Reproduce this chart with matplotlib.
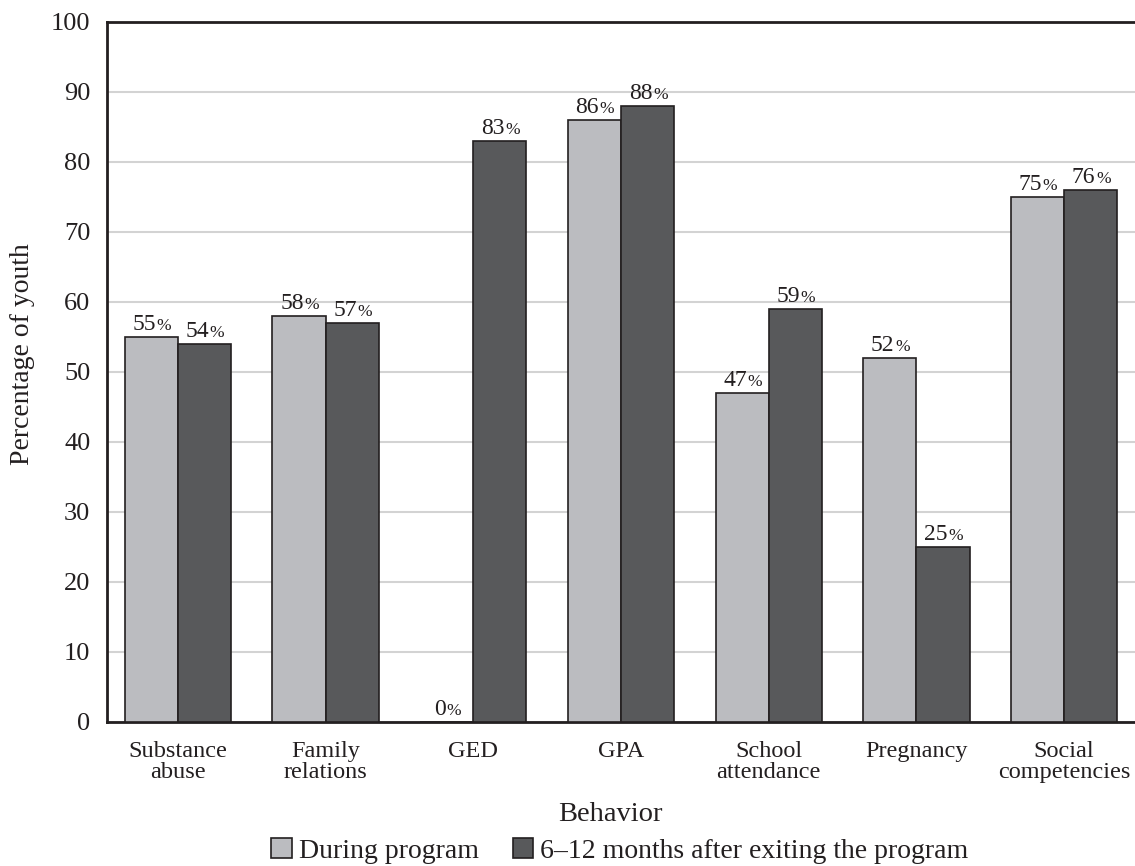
import matplotlib
matplotlib.use("Agg")
import matplotlib.pyplot as plt
import numpy as np

categories = ["Substance\nabuse", "Family\nrelations", "GED", "GPA",
              "School\nattendance", "Pregnancy", "Social\ncompetencies"]
during = [55, 58, 0, 86, 47, 52, 75]
after = [54, 57, 83, 88, 59, 25, 76]
series_names = ["During program", "6\u201312 months after exiting the program"]

light = "#bbbcc0"
dark = "#58595b"
ink = "#231f20"

plt.rcParams["font.family"] = ["Liberation Serif", "DejaVu Serif"]

W, H = 1135, 866
fig = plt.figure(figsize=(W / 100, H / 100), dpi=100)
ax = fig.add_axes([107 / W, 1 - 722 / H, 1028 / W, 700 / H])

x = np.arange(len(categories))
w = 0.36
b1 = ax.bar(x - w / 2, during, w, color=light, edgecolor=ink, linewidth=1.2,
            label=series_names[0], zorder=3)
b2 = ax.bar(x + w / 2, after, w, color=dark, edgecolor=ink, linewidth=1.2,
            label=series_names[1], zorder=3)

# value labels: digits at normal size, the percent sign a bit smaller
fs_d, fs_p = 17, 12.5
for bars, vals in ((b1, during), (b2, after)):
    for r, v in zip(bars, vals):
        cx = r.get_x() + r.get_width() / 2
        s = str(v)
        wd = len(s) * 0.5 * fs_d
        wp = 0.83 * fs_p
        off = -(wd + wp) / 2 + wd
        ax.annotate(s, (cx, v + 1.0), xytext=(off, 0), textcoords="offset points",
                    ha="right", va="baseline", fontsize=fs_d, color=ink)
        ax.annotate("%", (cx, v + 1.0), xytext=(off + 0.5, 0), textcoords="offset points",
                    ha="left", va="baseline", fontsize=fs_p, color=ink)

ax.set_xlim(-0.48, len(categories) - 0.52)
ax.set_ylim(0, 100)
ax.set_yticks(range(0, 101, 10))
ax.set_xticks(x)
ax.set_xticklabels(categories, fontsize=17.5, linespacing=0.95, color=ink)
ax.tick_params(axis="y", labelsize=19, length=0, pad=12, labelcolor=ink)
ax.tick_params(axis="x", length=0, pad=14)
ax.yaxis.grid(True, color="#d3d3d3", linewidth=1.5, zorder=0)
ax.set_axisbelow(True)

for s in ("left", "bottom", "top"):
    ax.spines[s].set_linewidth(2)
    ax.spines[s].set_color(ink)
ax.spines["right"].set_visible(False)

fig.text(23 / W, 1 - 354 / H, "Percentage of youth", rotation=90,
         ha="center", va="center", fontsize=20, color=ink)
fig.text(610 / W, 1 - 821 / H, "Behavior", ha="center", va="baseline",
         fontsize=20.5, color=ink)

fig.legend(loc="center", bbox_to_anchor=(620 / W, 1 - 851 / H), ncol=2, frameon=False,
           fontsize=20, handlelength=0.75, handleheight=0.75, handletextpad=0.25,
           columnspacing=1.2, borderpad=0, labelcolor=ink)

fig.savefig("out.png", dpi=100)
